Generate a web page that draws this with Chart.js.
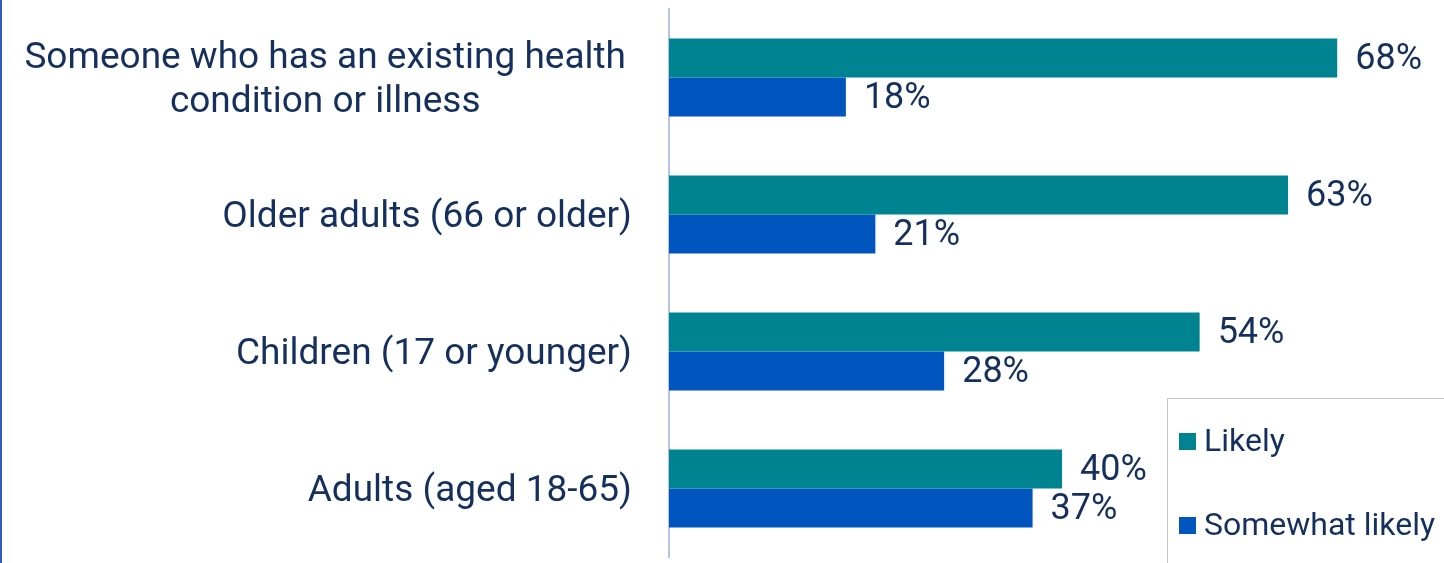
<!DOCTYPE html>
<html lang="en">
  <head>
    <meta charset="UTF-8" />
    <title>Likely groups</title>
    <script src="https://cdn.jsdelivr.net/npm/chart.js"></script>
    <style>
      body {
        margin: 0;
        background: #fff;
      }
      .wrap {
        position: relative;
        width: 1444px;
        height: 563px;
      }
      .edge {
        position: absolute;
        left: 0;
        top: 0;
        width: 2px;
        height: 563px;
        background: #2a5cc4;
      }
      .legend {
        position: absolute;
        left: 1167px;
        top: 398px;
        width: 290px;
        height: 180px;
        border: 1px solid #c8c8c8;
        font-family: Roboto, sans-serif;
        font-size: 32px;
        color: #15305c;
      }
      .legend .item {
        position: absolute;
        left: 11px;
        white-space: nowrap;
      }
      .legend .box {
        display: inline-block;
        width: 17px;
        height: 17px;
        margin-right: 8px;
        vertical-align: 1px;
      }
    </style>
  </head>
  <body>
    <div class="wrap">
      <canvas id="myChart" width="1444" height="563"></canvas>
      <div class="edge"></div>
      <div class="legend" id="legend"></div>
    </div>

    <script>
      // data
      let categories = [
        ["Someone who has an existing health", "condition or illness"],
        ["Older adults (66 or older)"],
        ["Children (17 or younger)"],
        ["Adults (aged 18-65)"],
      ];
      let likely = [68, 63, 54, 40];
      let somewhatLikely = [18, 21, 28, 37];
      let seriesNames = ["Likely", "Somewhat likely"];
      let seriesColors = ["#008391", "#0055bf"];

      let textColor = "#15305c";
      let labelFont = "37px Roboto, sans-serif";
      let valueFont = "36px Roboto, sans-serif";

      // y labels drawn by hand so the two-line one is centred per line
      let labelPlugin = {
        id: "labels",
        afterDraw(chart) {
          let ctx = chart.ctx;
          let yScale = chart.scales.y;
          ctx.save();
          ctx.font = labelFont;
          ctx.fillStyle = textColor;
          ctx.textBaseline = "middle";
          ctx.textAlign = "center";
          let lh = 44;
          categories.forEach((lines, i) => {
            let right = lines.length > 1 ? 626 : 632;
            let w = Math.max(...lines.map((l) => ctx.measureText(l).width));
            let cx = right - w / 2;
            let y0 = yScale.getPixelForTick(i) + 3 - ((lines.length - 1) * lh) / 2;
            lines.forEach((l, j) => ctx.fillText(l, cx, y0 + j * lh));
          });

          // value labels
          ctx.font = valueFont;
          ctx.textAlign = "left";
          chart.data.datasets.forEach((ds, d) => {
            chart.getDatasetMeta(d).data.forEach((bar, i) => {
              ctx.fillText(ds.data[i] + "%", bar.x + 18, bar.y + 2);
            });
          });
          ctx.restore();
        },
      };

      let ctx = document.getElementById("myChart");

      let chart = new Chart(ctx, {
        type: "bar",
        data: {
          labels: categories,
          datasets: [
            {
              label: seriesNames[0],
              data: likely,
              backgroundColor: seriesColors[0],
            },
            {
              label: seriesNames[1],
              data: somewhatLikely,
              backgroundColor: seriesColors[1],
            },
          ],
        },
        options: {
          indexAxis: "y",
          responsive: false,
          animation: false,
          categoryPercentage: 0.57,
          barPercentage: 1,
          layout: {
            padding: { top: 9, bottom: 6, right: 38, left: 0 },
          },
          plugins: {
            legend: { display: false },
            tooltip: { enabled: false },
          },
          scales: {
            x: {
              display: false,
              min: 0,
              max: 75,
            },
            y: {
              grid: { display: false },
              border: { display: true, color: "#b4c6e7", width: 2 },
              ticks: { display: false },
              afterFit(scale) {
                scale.width = 669;
              },
            },
          },
        },
        plugins: [labelPlugin],
      });

      // legend built from the series
      let legend = document.getElementById("legend");
      let tops = [22, 106];
      seriesNames.forEach((name, i) => {
        let item = document.createElement("div");
        item.className = "item";
        item.style.top = tops[i] + "px";
        item.innerHTML =
          '<span class="box" style="background:' + seriesColors[i] + '"></span>' + name;
        legend.appendChild(item);
      });
    </script>
  </body>
</html>
